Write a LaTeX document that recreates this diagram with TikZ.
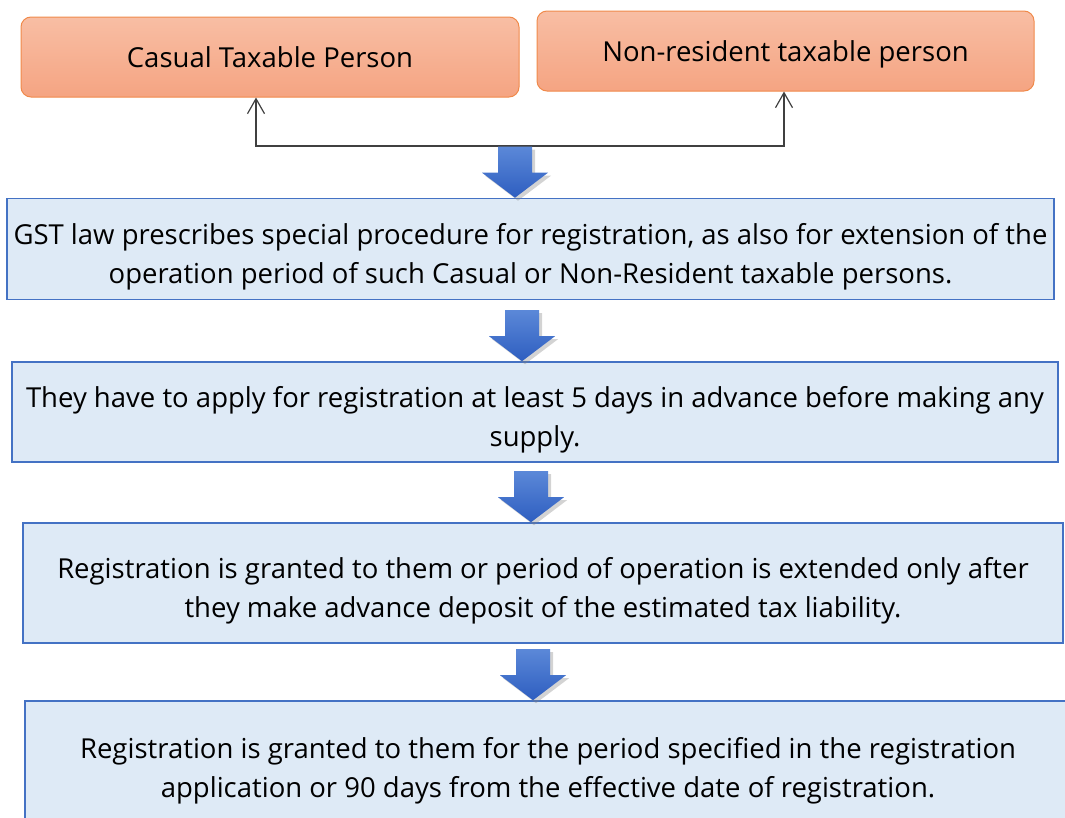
\documentclass[tikz,border=0pt]{standalone}
\usepackage{fontspec}
\setmainfont{Open Sans}
\usetikzlibrary{arrows.meta,shadows}

\definecolor{persontop}{HTML}{F8BEA4}
\definecolor{personbot}{HTML}{F5A482}
\definecolor{personline}{HTML}{F08A4B}
\definecolor{stepfill}{HTML}{DEEAF6}
\definecolor{stepline}{HTML}{4472C4}
\definecolor{arrtop}{HTML}{5B88D8}
\definecolor{arrbot}{HTML}{2E5EC0}
\definecolor{linkgray}{HTML}{404040}

\tikzset{
  person/.style={draw=personline, line width=1pt, rounded corners=10pt,
    top color=persontop, bottom color=personbot, minimum height=80pt,
    text height=21pt, text depth=0pt,
    font=\fontsize{27.5}{32}\selectfont},
  stepbox/.style={draw=stepline, line width=1.6pt, fill=stepfill,
    align=center, font=\fontsize{27.5}{39.5}\selectfont, inner sep=0pt,
    text height=69pt, text depth=0pt},
  link/.style={draw=linkgray, line width=1.2pt,
    {Straight Barb[length=15pt,width=17pt]}-{Straight Barb[length=15pt,width=17pt]}},
  downarr/.pic={
    \path[top color=arrtop, bottom color=arrbot,
      drop shadow={opacity=0.35, shadow xshift=3pt, shadow yshift=-3pt}]
      (0,0) -- (-33,-25) -- (-17,-25) -- (-17,-51) -- (17,-51) -- (17,-25) -- (33,-25) -- cycle;
  }
}

\begin{document}
\begin{tikzpicture}[x=1pt, y=-1pt]
  \useasboundingbox (0,0) rectangle (1065,817);
  \clip (0,0) rectangle (1065,817);

  % who the procedure is for
  \node[person, minimum width=498pt] (casual) at (270,57) {Casual Taxable Person};
  \node[person, minimum width=497pt] (nonres) at (785.5,51) {Non-resident taxable person};

  % bracket joining both persons
  \coordinate (busL) at (256,146);
  \coordinate (busR) at (784,146);
  \draw[link] (casual.south -| busL) -- (busL) -- (busR) -- (nonres.south -| busR);

  % steps
  \node[stepbox, minimum width=1047pt, minimum height=101pt] (law) at (530.5,249)
    {GST law prescribes special procedure for registration, as also for extension of the\\
     operation period of such Casual or Non-Resident taxable persons.};
  \node[stepbox, minimum width=1046pt, minimum height=100pt] (apply) at (535,412)
    {They have to apply for registration at least 5 days in advance before making any\\
     supply.};
  \node[stepbox, minimum width=1040pt, minimum height=120pt] (deposit) at (543,583)
    {Registration is granted to them or period of operation is extended only after\\
     they make advance deposit of the estimated tax liability.};
  \node[stepbox, minimum width=1046pt, minimum height=124pt] (period) at (548,763)
    {Registration is granted to them for the period specified in the registration\\
     application or 90 days from the effective date of registration.};

  % block arrows between the steps
  \pic at (law.north -| 515,0) {downarr};
  \pic at (apply.north -| 522,0) {downarr};
  \pic at (deposit.north -| 531,0) {downarr};
  \pic at (period.north -| 533,0) {downarr};
\end{tikzpicture}
\end{document}
